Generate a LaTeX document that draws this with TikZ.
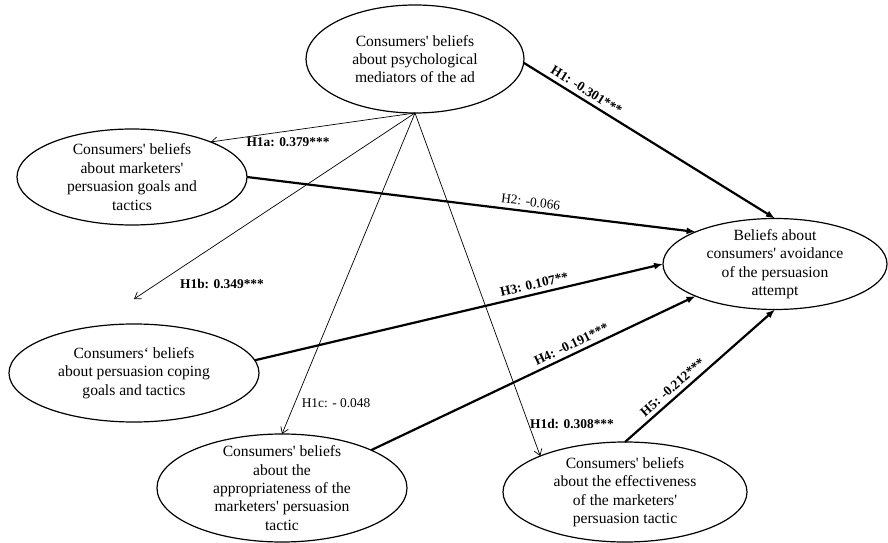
\documentclass[tikz,border=0pt]{standalone}
\usepackage{fontspec}
\setmainfont{Liberation Serif}
\usepackage{tikz}
\usetikzlibrary{shapes.geometric,arrows.meta}
\newcommand{\ap}{\textquotesingle}

\begin{document}
\begin{tikzpicture}[x=1bp,y=-1bp,
  belief/.style={draw,ellipse,line width=1.2bp,inner sep=-20bp,outer sep=0pt,
    align=center,font=\fontsize{15.6bp}{18.4bp}\selectfont},
  mainarrow/.style={line width=2.2bp,-{Latex[length=9bp,width=7bp]}},
  subarrow/.style={line width=0.7bp,-{Straight Barb[length=6bp,width=8bp]}},
  coef/.style={inner sep=1bp,font=\fontsize{13.4bp}{16bp}\selectfont},
  sig/.style={coef,font=\fontsize{13.4bp}{16bp}\selectfont\bfseries}]
  \useasboundingbox (0,0) rectangle (888,543);
  \node[belief,minimum width=218bp,minimum height=108bp] (psych) at (415,59)
    {Consumers\ap{} beliefs\\about psychological\\mediators of the ad};
  \node[belief,minimum width=230bp,minimum height=96bp] (market) at (132,177)
    {Consumers\ap{} beliefs\\about marketers\ap\\persuasion goals and\\tactics};
  \node[belief,minimum width=224bp,minimum height=91bp] (avoid) at (775,264)
    {Beliefs about\\consumers\ap{} avoidance\\of the persuasion\\attempt};
  \node[belief,minimum width=250bp,minimum height=98bp] (coping) at (134,373)
    {Consumers‘ beliefs\\about persuasion coping\\goals and tactics};
  \node[belief,minimum width=250bp,minimum height=108bp] (approp) at (282,488)
    {Consumers\ap{} beliefs\\about the\\appropriateness of the\\marketers\ap{} persuasion\\tactic};
  \node[belief,minimum width=244bp,minimum height=100bp] (effect) at (625,492)
    {Consumers\ap{} beliefs\\about the effectiveness\\of the marketers\ap\\persuasion tactic};
  % paths into the avoidance beliefs
  \draw[mainarrow] (psych.-2) -- (avoid.north)
    node[sig,pos=.23,sloped,above=3bp] {H1: -0.301***};
  \draw[mainarrow] (market.east) -- (avoid.158)
    node[coef,pos=.63,sloped,above=3bp] {H2: -0.066};
  \draw[mainarrow] (coping.6) -- (avoid.west)
    node[sig,pos=.69,sloped,above=3bp] {H3: 0.107**};
  \draw[mainarrow] (approp.23) -- (avoid.202)
    node[sig,pos=.63,sloped,above=3bp] {H4: -0.191***};
  \draw[mainarrow] (effect.north) -- (avoid.south)
    node[sig,pos=.36,sloped,above=3bp] {H5: -0.212***};
  % paths from the mediators
  \draw[subarrow] (psych.south) -- (market.24);
  \draw[subarrow] (psych.south) -- ([yshift=25bp]coping.north);
  \draw[subarrow] (psych.south) -- (approp.north);
  \draw[subarrow] (psych.south) -- (effect.157);
  \node[sig] (h1a) at (288,142) {H1a: 0.379***};
  \node[sig] (h1b) at (222,284) {H1b: 0.349***};
  \node[coef] (h1c) at (336,403) {H1c: - 0.048};
  \node[sig] (h1d) at (572,424) {H1d: 0.308***};
\end{tikzpicture}
\end{document}
